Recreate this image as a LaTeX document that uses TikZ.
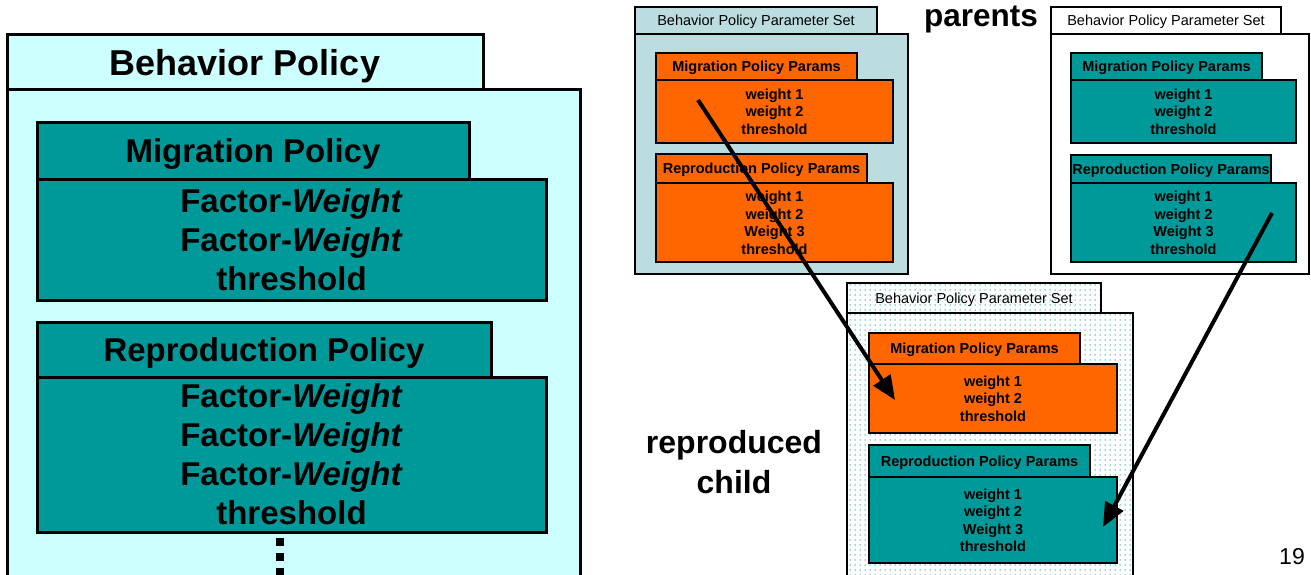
\documentclass[tikz,border=0pt]{standalone}
\usepackage{fontspec}
\setmainfont{Liberation Sans}
\usetikzlibrary{arrows.meta,patterns.meta}
\definecolor{paleCyan}{HTML}{CCFFFF}
\definecolor{tealFill}{HTML}{009999}
\definecolor{orangeFill}{HTML}{FF6600}
\definecolor{setBlue}{HTML}{BCDDE0}
\definecolor{dotTeal}{HTML}{40ABAB}
\newcommand{\fwline}{Factor-\textit{Weight}}
\begin{document}
\begin{tikzpicture}[x=1pt,y=-1pt,
  bigbox/.style={draw=black, line width=3pt, anchor=north west, inner sep=0pt, outer sep=0pt, align=center, text depth=0pt, font=\fontsize{33}{39}\selectfont\bfseries},
  parambox/.style={draw=black, line width=2pt, anchor=north west, inner sep=0pt, outer sep=0pt, align=center, text depth=0pt, font=\fontsize{14.5}{17.5}\selectfont\bfseries},
  settab/.style={draw=black, line width=1.6pt, anchor=north west, inner sep=0pt, outer sep=0pt, align=center, text depth=0pt, font=\fontsize{14.5}{17.5}\selectfont},
  speckle/.style={pattern={Dots[distance=5pt,radius=0.75pt]}, pattern color=dotTeal},
  link/.style={line width=4pt, -{Triangle[length=24pt,width=20pt]}},
]
\useasboundingbox (0,0) rectangle (1311,575);
\clip (0,0) rectangle (1311,575);

% ---- Behavior policy structure ----
\node[bigbox, fill=paleCyan, minimum width=573pt, minimum height=520pt] (bpBody) at (7,90) {};
\node[bigbox, fill=paleCyan, minimum width=476pt, minimum height=55pt, font=\fontsize{36}{40}\selectfont\bfseries] (bpTab) at (7,35) {Behavior Policy};
\node[bigbox, fill=tealFill, minimum width=432pt, minimum height=56pt] (migTab) at (37,123) {Migration Policy};
\node[bigbox, fill=tealFill, minimum width=509pt, minimum height=121pt] (migBody) at (37,179) {\fwline\\\fwline\\threshold};
\node[bigbox, fill=tealFill, minimum width=454pt, minimum height=55pt] (repTab) at (37,322) {Reproduction Policy};
\node[bigbox, fill=tealFill, minimum width=509pt, minimum height=155pt] (repBody) at (37,377) {\fwline\\\fwline\\\fwline\\threshold};
\draw[line width=8pt, dash pattern=on 8pt off 7pt] (280,538) -- (280,590);

% ---- first parent ----
\node[settab, fill=setBlue, minimum width=273pt, minimum height=240pt] (pOneBody) at (635,34) {};
\node[settab, fill=setBlue, minimum width=242pt, minimum height=27pt] (pOneTab) at (635,7) {Behavior Policy Parameter Set};
\node[parambox, fill=orangeFill, minimum width=201pt, minimum height=27pt] (pOneMigTab) at (656,53) {Migration Policy Params};
\node[parambox, fill=orangeFill, minimum width=237pt, minimum height=63pt] (pOneMigBody) at (656,80) {weight 1\\weight 2\\threshold};
\node[parambox, fill=orangeFill, minimum width=211pt, minimum height=29pt] (pOneRepTab) at (656,154) {Reproduction Policy Params};
\node[parambox, fill=orangeFill, minimum width=237pt, minimum height=79pt] (pOneRepBody) at (656,183) {weight 1\\weight 2\\Weight 3\\threshold};

% ---- second parent ----
\node[settab, fill=white, minimum width=258pt, minimum height=240pt] (pTwoBody) at (1051,34) {};
\node[settab, fill=white, minimum width=230pt, minimum height=27pt] (pTwoTab) at (1051,7) {Behavior Policy Parameter Set};
\node[parambox, fill=tealFill, minimum width=191pt, minimum height=27pt] (pTwoMigTab) at (1071,53) {Migration Policy Params};
\node[parambox, fill=tealFill, minimum width=225pt, minimum height=63pt] (pTwoMigBody) at (1071,80) {weight 1\\weight 2\\threshold};
\node[parambox, fill=tealFill, minimum width=200pt, minimum height=28pt] (pTwoRepTab) at (1071,155) {Reproduction Policy Params};
\node[parambox, fill=tealFill, minimum width=225pt, minimum height=79pt] (pTwoRepBody) at (1071,183) {weight 1\\weight 2\\Weight 3\\threshold};

% ---- reproduced child ----
\node[settab, speckle, minimum width=286pt, minimum height=290pt] (cBody) at (847,313) {};
\node[settab, speckle, minimum width=254pt, minimum height=30pt] (cTab) at (847,283) {Behavior Policy Parameter Set};
\node[parambox, fill=orangeFill, minimum width=211pt, minimum height=31pt] (cMigTab) at (869,333) {Migration Policy Params};
\node[parambox, fill=orangeFill, minimum width=248pt, minimum height=69pt] (cMigBody) at (869,364) {weight 1\\weight 2\\threshold};
\node[parambox, fill=tealFill, minimum width=221pt, minimum height=32pt] (cRepTab) at (869,445) {Reproduction Policy Params};
\node[parambox, fill=tealFill, minimum width=248pt, minimum height=86pt] (cRepBody) at (869,477) {weight 1\\weight 2\\Weight 3\\threshold};

% ---- labels ----
\node[font=\fontsize{31.5}{38}\selectfont\bfseries, inner sep=0pt, anchor=base] (parentsLbl) at (981,27) {parents};
\node[font=\fontsize{32}{40}\selectfont\bfseries, align=center, inner sep=0pt] (childLbl) at (734,462) {reproduced\\child};
\node[font=\fontsize{23}{26}\selectfont, inner sep=0pt] (pageNo) at (1292,557) {19};

% ---- inheritance arrows ----
\coordinate (migFrom) at (698,100);
\coordinate (migTo) at (895,400);
\coordinate (repFrom) at (1272,213);
\coordinate (repTo) at (1103,527);
\draw[link] (migFrom) -- (migTo);
\draw[link] (repFrom) -- (repTo);
\end{tikzpicture}
\end{document}
